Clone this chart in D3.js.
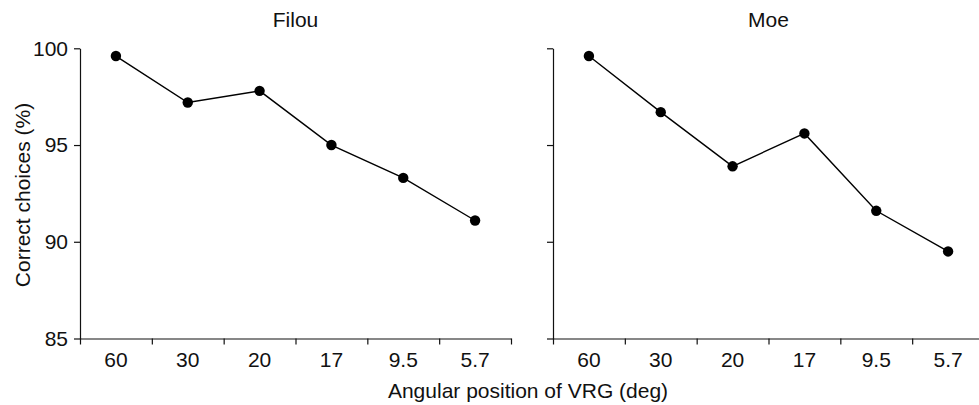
<!DOCTYPE html>
<html>
<head>
<meta charset="utf-8">
<script src="https://cdn.jsdelivr.net/npm/d3@7"></script>
<style>
    body { margin: 0; background: #fff; }
    svg { display: block; font-family: "Liberation Sans", Arial, sans-serif; }
</style>
</head>
<body>
<div id="chart"></div>
<script>
// angular positions of the VRG, shown left to right
const categories = ["60", "30", "20", "17", "9.5", "5.7"]

// correct choices (%) per animal
const filouValues = [99.6, 97.2, 97.8, 95.0, 93.3, 91.1]
const moeValues = [99.6, 96.7, 93.9, 95.6, 91.6, 89.5]

const panelTitles = ["Filou", "Moe"]
const yTicks = [85, 90, 95, 100]

const width = 979
const height = 405
const fontSize = 21

const svg = d3.select("#chart").append("svg")
    .attr("width", width)
    .attr("height", height)

const plotTop = 48.3
const plotBottom = 338.5
const panelWidth = 431

const panels = [
    { title: panelTitles[0], values: filouValues, left: 80, labels: true },
    { title: panelTitles[1], values: moeValues, left: 553, labels: false }
]

const y = d3.scaleLinear()
    .domain([85, 100])
    .range([plotBottom, plotTop])

function drawPanel(p) {
    const g = svg.append("g")

    const x = d3.scaleBand()
        .domain(categories)
        .range([p.left, p.left + panelWidth])

    // tick marks sit on the band boundaries, labels in the band centres
    const xEdges = d3.scaleLinear()
        .domain([0, categories.length])
        .range([p.left, p.left + panelWidth])

    g.append("g")
        .attr("transform", "translate(0," + plotBottom + ")")
        .call(d3.axisBottom(xEdges)
            .tickValues(d3.range(categories.length + 1))
            .tickFormat("")
            .tickSize(6)
            .tickSizeOuter(0))

    const xLabels = g.append("g")
        .attr("transform", "translate(0," + plotBottom + ")")
        .call(d3.axisBottom(x).tickSize(0).tickPadding(13.5))
    xLabels.select(".domain").remove()

    g.append("g")
        .attr("transform", "translate(" + p.left + ",0)")
        .call(d3.axisLeft(y)
            .tickValues(yTicks)
            .tickSize(6)
            .tickSizeOuter(0)
            .tickPadding(6)
            .tickFormat(p.labels ? d3.format("d") : ""))

    g.selectAll(".domain, .tick line")
        .attr("stroke", "#111")
        .attr("stroke-width", 1.2)
    g.selectAll(".tick text")
        .attr("fill", "#111")
        .style("font-size", fontSize + "px")
        .style("font-family", "'Liberation Sans', Arial, sans-serif")

    g.append("text")
        .attr("x", p.left + panelWidth / 2)
        .attr("y", 27)
        .attr("text-anchor", "middle")
        .style("font-size", fontSize + "px")
        .attr("fill", "#111")
        .text(p.title)

    const line = d3.line()
        .x(function (d, i) { return x(categories[i]) + x.bandwidth() / 2 })
        .y(function (d) { return y(d) })

    g.append("path")
        .datum(p.values)
        .attr("d", line)
        .attr("fill", "none")
        .attr("stroke", "#000")
        .attr("stroke-width", 1.4)

    g.selectAll(".dot")
        .data(p.values)
        .enter()
        .append("circle")
        .attr("class", "dot")
        .attr("cx", function (d, i) { return x(categories[i]) + x.bandwidth() / 2 })
        .attr("cy", function (d) { return y(d) })
        .attr("r", 5.2)
        .attr("fill", "#000")
}

panels.forEach(drawPanel)

svg.append("text")
    .attr("transform", "translate(30,195) rotate(-90)")
    .attr("text-anchor", "middle")
    .style("font-size", fontSize + "px")
    .attr("fill", "#111")
    .text("Correct choices (%)")

svg.append("text")
    .attr("x", 528)
    .attr("y", 398)
    .attr("text-anchor", "middle")
    .style("font-size", fontSize + "px")
    .attr("fill", "#111")
    .text("Angular position of VRG (deg)")
</script>
</body>
</html>
